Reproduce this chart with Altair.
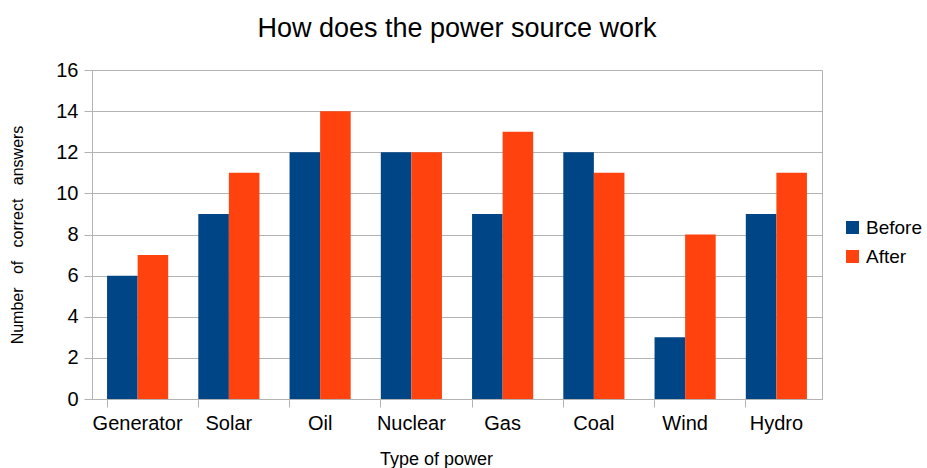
import altair as alt
import pandas as pd

categories = ["Generator", "Solar", "Oil", "Nuclear", "Gas", "Coal", "Wind", "Hydro"]
before = [6, 9, 12, 12, 9, 12, 3, 9]
after = [7, 11, 14, 12, 13, 11, 8, 11]
series = ["Before", "After"]
colors = ["#004586", "#ff420e"]

rows = []
for c, b, a in zip(categories, before, after):
    rows.append({"type": c, "series": "Before", "value": b})
    rows.append({"type": c, "series": "After", "value": a})
df = pd.DataFrame(rows)

FONT = "Liberation Sans"
GRID = "#b3b3b3"
SP = "\u00a0\u00a0\u00a0"

chart = alt.Chart(df).mark_bar().encode(
    x=alt.X("type:N", sort=categories, title="Type of power",
            scale=alt.Scale(paddingInner=0.33, paddingOuter=0.165),
            axis=alt.Axis(labelAngle=0, labelFontSize=20, labelColor="#000",
                          labelFont=FONT, labelPadding=6,
                          titleFont=FONT, titleFontSize=18, titleFontWeight="normal",
                          titleColor="#000", titlePadding=17, titleX=344,
                          bandPosition=0, tickSize=8, tickColor=GRID,
                          domainColor=GRID, grid=False)),
    xOffset=alt.XOffset("series:N", sort=series),
    y=alt.Y("value:Q", title="Number" + SP + "of" + SP + "correct" + SP + "answers",
            scale=alt.Scale(domain=[0, 16]),
            axis=alt.Axis(values=list(range(0, 17, 2)), labelFontSize=20,
                          labelColor="#000", labelFont=FONT, labelPadding=6,
                          titleFont=FONT, titleFontSize=16, titleFontWeight="normal",
                          titleColor="#000", titlePadding=30,
                          tickSize=8, tickColor=GRID, domainColor=GRID,
                          gridColor=GRID, gridWidth=1)),
    color=alt.Color("series:N", sort=series,
                    scale=alt.Scale(domain=series, range=colors),
                    legend=alt.Legend(title=None, orient="none", legendX=751, legendY=148,
                                      labelFont=FONT, labelFontSize=19, labelColor="#000",
                                      symbolType="square", symbolSize=169,
                                      symbolStrokeWidth=0, rowPadding=9,
                                      labelOffset=4, symbolOpacity=1)),
).properties(
    width=730, height=329,
    title=alt.Title("How does the power source work", font=FONT, fontSize=27,
                    fontWeight="normal", color="#000", offset=17),
    autosize=alt.AutoSizeParams(type="none"),
    padding={"left": 92, "top": 70, "right": 105, "bottom": 69},
).configure_view(
    stroke=GRID, strokeWidth=1
)

chart.save("out.html", embed_options={"renderer": "svg", "actions": False})
